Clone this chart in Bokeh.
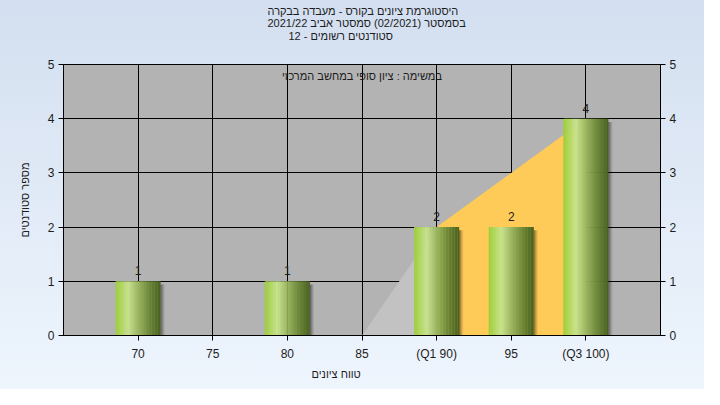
import numpy as np
from bokeh.plotting import figure
from bokeh.models import Range1d, LinearAxis, FixedTicker, Label, Title
from bokeh.core.properties import value
from bokeh.embed import file_html
from bokeh.resources import INLINE

# ---------------- data ----------------
grades = [70, 75, 80, 85, 90, 95, 100]
counts = [1, 0, 1, 0, 2, 2, 4]
tick_labels = ["70", "75", "80", "85", "(Q1 90)", "95", "(Q3 100)"]
curve_x = [85, 90, 100]
curve_y = [0, 2, 4]
q1, q3 = 90, 100
title_lines = [
    "היסטוגרמת ציונים בקורס - מעבדה בבקרה",
    "בסמסטר  (02/2021)  סמסטר אביב 2021/22",
    "סטודנטים רשומים - 12",
]
subtitle = "במשימה : ציון סופי במחשב המרכזי"
x_label = "טווח ציונים"
y_label = "מספר סטודנטים"

FONT = "Liberation Sans"
FS = "11px"
TXT = "#1c1c1c"

p = figure(width=704, height=389, output_backend="svg", toolbar_location=None,
           x_range=Range1d(65, 105), y_range=Range1d(0, 5), title_location=None,
           min_border_left=63, min_border_right=44, min_border_top=64, min_border_bottom=54)
p.background_fill_color = "#b3b3b3"
p.border_fill_alpha = 0
p.styles = {"background": "linear-gradient(to bottom, #d3dff0, #eef5fd)"}
p.outline_line_color = "black"
p.outline_line_width = 1

# grid
p.xgrid.ticker = FixedTicker(ticks=grades)
p.ygrid.ticker = FixedTicker(ticks=[0, 1, 2, 3, 4, 5])
for g in (p.xgrid, p.ygrid):
    g.grid_line_color = "black"
    g.grid_line_alpha = 1
    g.grid_line_width = 1

# quartile area
gx = [x for x in curve_x if x <= q1]
gy = [y for x, y in zip(curve_x, curve_y) if x <= q1]
p.patch(gx + [gx[-1], gx[0]], gy + [0, 0], fill_color="#c2c2c2", line_color=None)
ox = [x for x in curve_x if q1 <= x <= q3]
oy = [y for x, y in zip(curve_x, curve_y) if q1 <= x <= q3]
p.patch(ox + [ox[-1], ox[0]], oy + [0, 0], fill_color="#fecb58", line_color=None)

# bars with gradient
bw = 3.0
stops = [(0.0, (0x9c, 0xce, 0x38)), (0.28, (0xc8, 0xe3, 0x8e)), (0.5, (0x9c, 0xb6, 0x62)),
         (0.75, (0x6c, 0x88, 0x36)), (1.0, (0x48, 0x60, 0x20))]

def grad(t):
    for (t0, c0), (t1, c1) in zip(stops[:-1], stops[1:]):
        if t0 <= t <= t1:
            f = (t - t0) / (t1 - t0)
            return "#%02x%02x%02x" % tuple(int(round(a + (b - a) * f)) for a, b in zip(c0, c1))
    return "#486020"

N = 30
sw = bw / N
bars_x = [g for g, c in zip(grades, counts) if c > 0]
bars_y = [c for c in counts if c > 0]

# shadows
for k, a in enumerate([0.45, 0.3, 0.18, 0.08]):
    p.vbar(x=[g + bw / 2 + 0.035 + k * 0.07 for g in bars_x], width=0.075,
           top=[c - 0.06 for c in bars_y], bottom=0, fill_color="black", fill_alpha=a, line_color=None)

for i in range(N):
    t = (i + 0.5) / N
    col = grad(t)
    p.vbar(x=[g - bw / 2 + (i + 0.5) * sw for g in bars_x], width=sw * 1.2,
           top=bars_y, bottom=0, fill_color=col, line_color=None)

# value labels
p.text(x=bars_x, y=bars_y, text=[str(c) for c in bars_y], text_align="center",
       text_baseline="bottom", y_offset=-6, text_font=value(FONT), text_font_size="12px",
       text_color=TXT)

# axes
p.xaxis.ticker = FixedTicker(ticks=grades)
p.xaxis.major_label_overrides = {g: l for g, l in zip(grades, tick_labels)}
p.yaxis.ticker = FixedTicker(ticks=[0, 1, 2, 3, 4, 5])
p.yaxis.axis_label = y_label
right = LinearAxis(ticker=FixedTicker(ticks=[0, 1, 2, 3, 4, 5]))
p.add_layout(right, "right")
for ax in p.xaxis + p.yaxis + [right]:
    ax.axis_line_color = "black"
    ax.major_tick_line_color = "black"
    ax.major_tick_out = 5
    ax.major_tick_in = 0
    ax.minor_tick_line_color = None
    ax.major_label_text_font = FONT
    ax.major_label_text_font_size = "12px"
    ax.major_label_text_color = TXT
    ax.major_label_standoff = 4
    ax.axis_label_text_font = FONT
    ax.axis_label_text_font_size = FS
    ax.axis_label_text_font_style = "normal"
    ax.axis_label_text_color = TXT
p.yaxis.axis_label_standoff = 14
p.xaxis.major_label_standoff = 6

# spacer between frame and titles
p.add_layout(Title(text=" ", standoff=9, text_font=FONT, text_font_size=FS,
                   text_color=TXT), "above")
# titles (stacked above the frame, nearest first)
for line, so, off in zip(title_lines[::-1], [0, -2, -2], [225, 204, 204]):
    p.add_layout(Title(text=line, align="left", offset=off, standoff=so,
                       text_font=FONT, text_font_size=FS, text_font_style="normal",
                       text_color=TXT), "above")

# x axis label (below) & subtitle
p.add_layout(Title(text=x_label, align="left", offset=248, standoff=4,
                   text_font=FONT, text_font_size=FS, text_font_style="normal",
                   text_color=TXT), "below")
p.add_layout(Label(x=85, y=4.78, text=subtitle, text_align="center", text_baseline="middle",
                   text_font=FONT, text_font_size=FS, text_color=TXT))

open("out.html", "w").write(file_html(p, INLINE))
